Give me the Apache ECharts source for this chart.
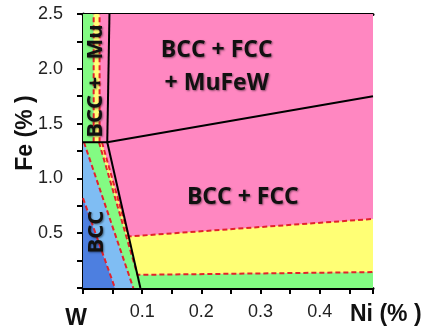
<!DOCTYPE html>
<html>
<head>
<meta charset="utf-8">
<script src="https://cdn.jsdelivr.net/npm/echarts@6/dist/echarts.min.js"></script>
<style>
html, body { margin: 0; padding: 0; background: #fff; }
#chart { width: 426px; height: 332px; }
</style>
</head>
<body>
<div id="chart"></div>
<script>
// axis values (Ni %, Fe %)
var xMax = 0.49;
var yMax = 2.5;
var xTickLabels = { 0: 'W', 0.1: '0.1', 0.2: '0.2', 0.3: '0.3', 0.4: '0.4' };

// black phase boundaries [Ni, Fe]
var stripBorder = [[0.0447, 2.5], [0.041, 1.33]];
var steepBorder = [[0.041, 1.33], [0.097, 0]];
var shelfBorder = [[0, 1.33], [0.041, 1.33]];
var slopeBorder = [[0.041, 1.33], [0.49, 1.75]];

// red dashed boundaries [Ni, Fe]
var stripDashA = [[0.018, 1.33], [0.018, 2.5]];
var stripDashB = [[0.028, 1.33], [0.028, 2.5]];
var bccDash = [[0, 0.82], [0.054, 0]];
var blueGreenDash = [[0.0016, 1.33], [0.085, 0]];
var greenYellowDash = [[0.027, 1.33], [0.092, 0.12], [0.49, 0.145]];
var yellowPinkDash = [[0.032, 1.33], [0.077, 0.47], [0.49, 0.63]];

// phase names and where they sit [Ni, Fe]
var phaseNames = ['BCC + FCC\n+ MuFeW', 'BCC + FCC', 'BCC +   Mu', 'BCC'];
var phaseAt = [[0.226, 2.02], [0.27, 0.83], [0.022, 1.37], [0.0237, 0.51]];
var phaseVertical = [false, false, true, true];

var PINK = '#ff87c1', GREEN = '#83fb83', YELLOW = '#ffff75',
    LIGHTBLUE = '#7fbdf3', DARKBLUE = '#4d7fe0', RED = '#e3222b';

var regions = [
  { color: PINK, pts: [[0, 0], [xMax, 0], [xMax, yMax], [0, yMax]] },
  { color: GREEN, pts: [[0, 1.33], stripDashA[0], stripDashA[1], [0, yMax]] },
  { color: YELLOW, pts: [stripDashA[0], stripDashB[0], stripDashB[1], stripDashA[1]] },
  { color: DARKBLUE, pts: [[0, 0], bccDash[1], bccDash[0]] },
  { color: LIGHTBLUE, pts: [bccDash[0], bccDash[1], blueGreenDash[1], blueGreenDash[0], [0, 1.33]] },
  { color: GREEN, pts: [blueGreenDash[0], blueGreenDash[1], [xMax, 0]].concat(greenYellowDash.slice().reverse()) },
  { color: YELLOW, pts: greenYellowDash.concat(yellowPinkDash.slice().reverse()) }
];

var chart = echarts.init(document.getElementById('chart'));

function lineSeries(data, dashed) {
  return {
    type: 'line',
    data: data,
    symbol: 'none',
    silent: true,
    z: dashed ? 3 : 4,
    lineStyle: dashed
      ? { color: RED, width: 2, type: [5, 3] }
      : { color: '#000', width: 2 }
  };
}

var tickFont = { fontFamily: 'Liberation Sans', fontSize: 18, color: '#222' };

var option = {
  animation: false,
  grid: { left: 83, right: 53, top: 14, bottom: 44, outerBoundsMode: 'none' },
  xAxis: [{
    type: 'value',
    min: 0,
    max: xMax,
    interval: 0.1,
    name: 'Ni (% )',
    nameLocation: 'end',
    nameGap: -23,
    nameMoveOverlap: false,
    nameTextStyle: {
      fontFamily: 'Liberation Sans', fontSize: 23, fontWeight: 'bold', color: '#111',
      align: 'left', verticalAlign: 'top', padding: [15, 0, 0, 0]
    },
    axisLine: { lineStyle: { color: '#000', width: 3 } },
    axisTick: { show: true, length: 6, lineStyle: { color: '#000', width: 2 } },
    minorTick: { show: true, splitNumber: 2, length: 6, lineStyle: { color: '#000', width: 2 } },
    splitLine: { show: false },
    axisLabel: Object.assign({
      margin: 15,
      showMaxLabel: false,
      formatter: function (v) {
        var t = xTickLabels[Math.round(v * 10) / 10];
        if (t === 'W') return '{w|W}';
        return t || '';
      },
      rich: { w: { fontFamily: 'Liberation Sans', fontSize: 23, fontWeight: 'bold', color: '#111', padding: [4, 14, 0, 0] } }
    }, tickFont)
  }, {
    type: 'value',
    position: 'top',
    min: 0,
    max: xMax,
    axisLine: { show: true, lineStyle: { color: '#000', width: 3 } },
    axisTick: { show: false },
    axisLabel: { show: false },
    splitLine: { show: false }
  }],
  yAxis: {
    type: 'value',
    min: 0,
    max: yMax,
    interval: 0.5,
    name: 'Fe (% )',
    nameLocation: 'middle',
    nameGap: 46,
    nameMoveOverlap: false,
    nameTextStyle: {
      fontFamily: 'Liberation Sans', fontSize: 23, fontWeight: 'bold', color: '#111',
      padding: [0, 0, 0, 36]
    },
    axisLine: { show: true, lineStyle: { color: '#000', width: 3 } },
    axisTick: { show: true, length: 6, lineStyle: { color: '#000', width: 2 } },
    minorTick: { show: true, splitNumber: 2, length: 6, lineStyle: { color: '#000', width: 2 } },
    splitLine: { show: false },
    axisLabel: Object.assign({
      margin: 20,
      showMinLabel: false,
      formatter: function (v) { return v.toFixed(1); }
    }, tickFont)
  },
  series: [
    {
      type: 'custom',
      clip: true,
      silent: true,
      z: 1,
      data: regions.map(function (r) { return r.pts[0]; }),
      renderItem: function (params, api) {
        var r = regions[params.dataIndex];
        return {
          type: 'polygon',
          shape: { points: r.pts.map(function (p) { return api.coord(p); }) },
          style: { fill: r.color }
        };
      }
    },
    lineSeries(stripDashA, true),
    lineSeries(stripDashB, true),
    lineSeries(bccDash, true),
    lineSeries(blueGreenDash, true),
    lineSeries(greenYellowDash, true),
    lineSeries(yellowPinkDash, true),
    lineSeries(stripBorder, false),
    lineSeries(steepBorder, false),
    lineSeries(shelfBorder, false),
    lineSeries(slopeBorder, false),
    {
      type: 'custom',
      clip: true,
      silent: true,
      z: 10,
      data: phaseAt,
      renderItem: function (params, api) {
        var i = params.dataIndex;
        var p = api.coord(phaseAt[i]);
        var vertical = phaseVertical[i];
        return {
          type: 'text',
          x: p[0],
          y: p[1],
          rotation: vertical ? Math.PI / 2 : 0,
          style: {
            text: phaseNames[i],
            fontFamily: 'Open Sans',
            fontWeight: 'bold',
            fontSize: vertical ? 22 : 23,
            lineHeight: 33,
            fill: '#111',
            align: vertical && i === 2 ? 'left' : 'center',
            verticalAlign: 'middle',
            textShadowColor: 'rgba(0,0,0,0.45)',
            textShadowBlur: 2,
            textShadowOffsetX: 1,
            textShadowOffsetY: 1
          }
        };
      }
    }
  ]
};

chart.setOption(option);
window.addEventListener('resize', function () {
  chart.resize();
});
</script>
</body>
</html>
